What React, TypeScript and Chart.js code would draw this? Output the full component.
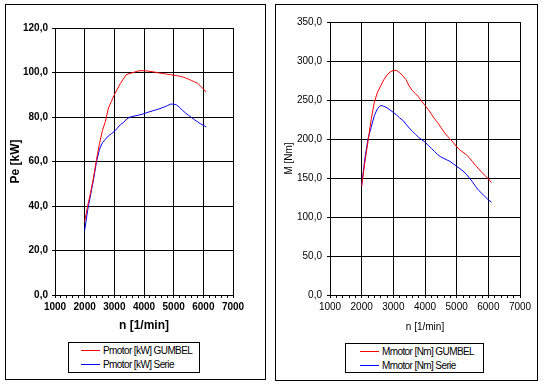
import React, { useEffect, useRef } from "react";
import { Chart, registerables } from "chart.js";

Chart.register(...registerables);

const rpm = [
  2000, 2100, 2200, 2300, 2400, 2500, 2600, 2700, 2800, 2900, 3000, 3100, 3200, 3300,
  3400, 3500, 3600, 3700, 3800, 3900, 4000, 4100, 4200, 4300, 4400, 4500, 4600, 4700,
  4800, 4900, 5000, 5100, 5200, 5300, 5400, 5500, 5600, 5700, 5800, 5900, 6000, 6100,
];

const powerGumbel = [
  33, 40, 46, 53, 61, 68, 74, 78, 84, 87, 90, 92.5, 95, 97, 99, 99.5, 99.8, 100.3, 100.7,
  100.8, 100.8, 100.7, 100.5, 100.3, 100.1, 99.8, 99.6, 99.4, 99.2, 99, 98.8, 98.6, 98.3,
  98, 97.6, 97, 96.4, 95.8, 95.2, 94, 92.6, 91.2,
];

const powerSerie = [
  29, 38, 45, 52, 60, 65.5, 68.5, 70, 71.5, 72.5, 73.5, 75, 76.5, 77.5, 78.8, 79.8, 80.2,
  80.5, 80.8, 81.1, 81.5, 82, 82.4, 82.8, 83.2, 83.6, 84.1, 84.6, 85.2, 85.8, 85.8, 85.4,
  84.3, 83, 81.8, 80.8, 79.8, 78.8, 77.9, 77, 76.3, 75.5,
];

const torqueGumbel = [
  140, 170, 197, 225, 247, 260, 268, 276, 282, 286, 288, 288, 285, 281, 276, 268, 262, 258,
  254, 248, 243, 238, 232, 226, 221, 215, 209, 204, 200, 195, 190, 186, 183, 180, 176, 171,
  166, 161.5, 157, 153, 149, 144,
];

const torqueSerie = [
  140, 175, 200, 215, 230, 239, 243, 242, 240, 237, 234, 231, 227, 224, 219, 214, 210, 206,
  202, 199, 196, 192, 188, 184, 180, 177, 175, 173, 171, 168, 165, 162, 159, 155, 150, 145,
  139, 134, 130, 126, 122, 119,
];

const FONT = "'Liberation Sans', Arial, sans-serif";

type PanelCfg = {
  series: { label: string; values: number[]; color: string }[];
  yMax: number;
  yStep: number;
  yTitle: string;
  xTitle: string;
  bold: boolean;
  yWidth: number;
  padTop: number;
  padRight: number;
  yLabelPad: number;
  yTitlePad: number;
};

function ChartPanel({ cfg, style }: { cfg: PanelCfg; style: React.CSSProperties }) {
  const ref = useRef<HTMLCanvasElement | null>(null);
  useEffect(() => {
    if (!ref.current) return;
    const tickFont = { family: FONT, size: 10, weight: cfg.bold ? "bold" : "normal" } as any;
    const titleFont = { family: FONT, size: cfg.bold ? 12 : 10, weight: cfg.bold ? "bold" : "normal" } as any;
    const chart = new Chart(ref.current, {
      type: "line",
      data: {
        datasets: cfg.series.map((s) => ({
          label: s.label,
          data: rpm.map((x, i) => ({ x, y: s.values[i] })),
          borderColor: s.color,
          backgroundColor: s.color,
          borderWidth: 1,
          pointRadius: 0,
          tension: 0,
          fill: false,
        })),
      },
      options: {
        animation: false,
        responsive: false,
        maintainAspectRatio: false,
        events: [],
        layout: { padding: { left: 0, top: cfg.padTop, right: cfg.padRight, bottom: 0 } },
        plugins: { legend: { display: false }, tooltip: { enabled: false } },
        scales: {
          x: {
            type: "linear",
            min: 1000,
            max: 7000,
            afterFit: (s: any) => {
              s.height = 40;
            },
            ticks: {
              stepSize: 200,
              autoSkip: false,
              maxRotation: 0,
              padding: 3,
              color: "#000",
              font: tickFont,
              callback: (v: any) => (Number(v) % 1000 === 0 ? String(v) : ""),
            },
            grid: {
              color: (c: any) => (c.tick && c.tick.value % 1000 === 0 ? "#000" : "rgba(0,0,0,0)"),
              tickColor: "#000",
              tickLength: 3,
              lineWidth: 1,
            },
            border: { color: "#000", width: 1 },
            title: {
              display: true,
              text: cfg.xTitle,
              color: "#000",
              font: titleFont,
              padding: { top: 0, bottom: 2 },
            },
          },
          y: {
            type: "linear",
            min: 0,
            max: cfg.yMax,
            afterFit: (s: any) => {
              s.width = cfg.yWidth;
            },
            ticks: {
              stepSize: cfg.yStep,
              padding: cfg.yLabelPad,
              color: "#000",
              font: tickFont,
              callback: (v: any) => Number(v).toFixed(1).replace(".", ","),
            },
            grid: { color: "#000", tickColor: "#000", tickLength: 3, lineWidth: 1 },
            border: { color: "#000", width: 1 },
            title: {
              display: true,
              text: cfg.yTitle,
              color: "#000",
              font: titleFont,
              padding: { top: cfg.yTitlePad, bottom: 0 },
            },
          },
        },
      },
    });
    return () => chart.destroy();
  }, [cfg]);
  return <canvas ref={ref} width={style.width as number} height={style.height as number} style={{ position: "absolute", ...style }} />;
}

const leftCfg: PanelCfg = {
  series: [
    { label: "Pmotor [kW] GUMBEL", values: powerGumbel, color: "#ff0000" },
    { label: "Pmotor [kW] Serie", values: powerSerie, color: "#0000ff" },
  ],
  yMax: 120,
  yStep: 20,
  yTitle: "Pe [kW]",
  xTitle: "n [1/min]",
  bold: true,
  yWidth: 49,
  padTop: 23,
  padRight: 31,
  yLabelPad: 4,
  yTitlePad: 2,
};

const rightCfg: PanelCfg = {
  series: [
    { label: "Mmotor [Nm] GUMBEL", values: torqueGumbel, color: "#ff0000" },
    { label: "Mmotor [Nm] Serie", values: torqueSerie, color: "#0000ff" },
  ],
  yMax: 350,
  yStep: 50,
  yTitle: "M [Nm]",
  xTitle: "n [1/min]",
  bold: false,
  yWidth: 54,
  padTop: 17,
  padRight: 17,
  yLabelPad: 5,
  yTitlePad: 7,
};

function Legend({ cfg, box, lineLeft, textLeft }: { cfg: PanelCfg; box: { left: number; top: number; width: number; height: number }; lineLeft: number; textLeft: number }) {
  return (
    <div
      style={{
        position: "absolute",
        left: box.left,
        top: box.top,
        width: box.width,
        height: box.height,
        border: "1px solid #000",
        boxSizing: "border-box",
        fontFamily: FONT,
        fontSize: 10,
        letterSpacing: "-0.6px",
        color: "#000",
      }}
    >
      {cfg.series.map((s, i) => (
        <div key={s.label} style={{ position: "absolute", left: 0, top: 1 + i * 13.5, height: 13, width: "100%" }}>
          <div style={{ position: "absolute", left: lineLeft, top: 6, width: 19, height: 1, background: s.color }} />
          <div style={{ position: "absolute", left: textLeft, top: 0, lineHeight: "13px", whiteSpace: "nowrap" }}>{s.label}</div>
        </div>
      ))}
    </div>
  );
}

export default function App() {
  return (
    <div style={{ position: "absolute", left: 0, top: 0, width: 543, height: 385, background: "#fff" }}>
      <div style={{ position: "absolute", left: 5, top: 4, width: 261, height: 376, border: "1px solid #000", boxSizing: "border-box" }} />
      <div style={{ position: "absolute", left: 275, top: 4, width: 263, height: 377, border: "1px solid #000", boxSizing: "border-box" }} />
      <ChartPanel cfg={leftCfg} style={{ left: 6, top: 5, width: 258, height: 330 }} />
      <ChartPanel cfg={rightCfg} style={{ left: 276, top: 5, width: 261, height: 330 }} />
      <Legend cfg={leftCfg} box={{ left: 68, top: 342, width: 132, height: 31 }} lineLeft={12} textLeft={34} />
      <Legend cfg={rightCfg} box={{ left: 345, top: 343, width: 139, height: 30 }} lineLeft={14} textLeft={36} />
    </div>
  );
}
